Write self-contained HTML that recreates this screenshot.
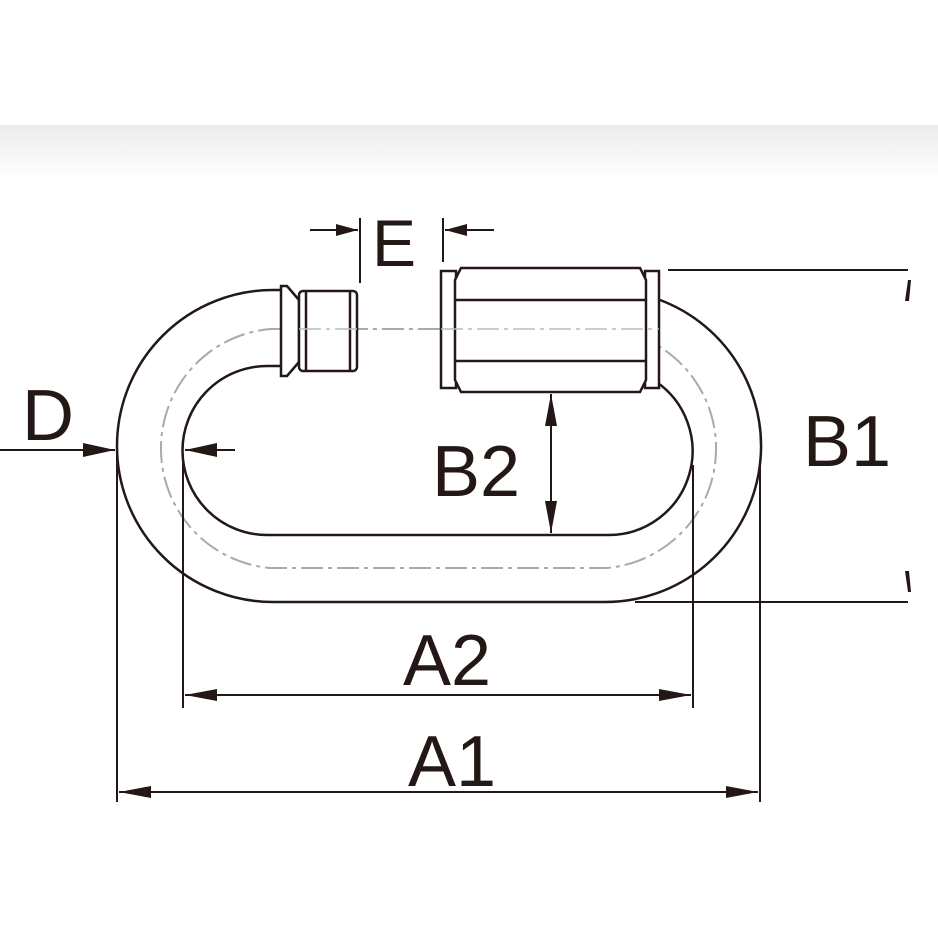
<!DOCTYPE html>
<html><head><style>
html,body{margin:0;padding:0;background:#fff;}
svg{display:block;}
text{font-family:"Liberation Sans",Arial,sans-serif;fill:#231815;}
</style></head><body>
<svg width="938" height="938" viewBox="0 0 938 938" xmlns="http://www.w3.org/2000/svg">
<defs>
<linearGradient id="g" x1="0" y1="0" x2="0" y2="1">
<stop offset="0" stop-color="#ececec"/><stop offset="1" stop-color="#ffffff"/>
</linearGradient>
</defs>
<rect x="0" y="0" width="938" height="938" fill="#fff"/>
<rect x="0" y="125" width="938" height="55" fill="url(#g)"/>
<g fill="none" stroke="#231815" stroke-width="2.5">
<!-- outer link -->
<path d="M282 290 L273 290 A156 156 0 0 0 273 602 L604 602 A156 156 0 0 0 660 300"/>
<!-- inner link -->
<path d="M282 366 L267 366 A84.5 84.5 0 0 0 267 535 L609 535 A84 84 0 0 0 655 381"/>
</g>
<!-- centerline -->
<path d="M280 329 L270 329 A120 120 0 0 0 270 568 L607 568 A120 120 0 0 0 607 329 L280 329" fill="none" stroke="#aaa" stroke-width="2" stroke-dasharray="22,5,4,5"/>
<g fill="#fff" stroke="#231815" stroke-width="2.5">
<!-- gate end -->
<path d="M281 286 L287 286 L299 300 L299 362 L287 376 L281 376 Z"/>
<rect x="299" y="291" width="58" height="80" rx="4"/>
<line x1="306" y1="291" x2="306" y2="371"/>
<line x1="350" y1="291" x2="350" y2="371"/>
<!-- nut -->
<rect x="441" y="271" width="15" height="117"/>
<rect x="645" y="271" width="14" height="117"/>
<path d="M461 268 L640 268 L646 280 L646 380 L640 392 L461 392 L455 380 L455 280 Z"/>
<line x1="455" y1="300" x2="646" y2="300"/>
<line x1="455" y1="361" x2="646" y2="361"/>
</g>
<path d="M299 329 L357 329 M441 329 L659 329" fill="none" stroke="#bbb" stroke-width="1.5" stroke-dasharray="22,5,4,5"/>
<g stroke="#231815" stroke-width="2" fill="none">
<!-- E -->
<line x1="360" y1="218" x2="360" y2="283"/>
<line x1="443" y1="218" x2="443" y2="262"/>
<line x1="310" y1="230" x2="358" y2="230"/>
<line x1="445" y1="230" x2="494" y2="230"/>
<!-- B1 -->
<line x1="668" y1="270" x2="908" y2="270"/>
<line x1="635" y1="602" x2="908" y2="602"/>
<!-- D -->
<line x1="0" y1="450" x2="115" y2="450"/>
<line x1="185" y1="450" x2="235" y2="450"/>
<!-- B2 -->
<line x1="551" y1="394" x2="551" y2="533"/>
<!-- A2 -->
<line x1="183" y1="455" x2="183" y2="708"/>
<line x1="693" y1="465" x2="693" y2="708"/>
<line x1="185" y1="695" x2="691" y2="695"/>
<!-- A1 -->
<line x1="117" y1="455" x2="117" y2="802"/>
<line x1="760" y1="460" x2="760" y2="802"/>
<line x1="119" y1="792" x2="758" y2="792"/>
</g>
<g fill="#231815">
<polygon points="358,230 336,224 336,236"/>
<polygon points="445,230 467,224 467,236"/>
<polygon points="115,450 83,443 83,457"/>
<polygon points="185,450 217,443 217,457"/>
<polygon points="551,394 545,426 557,426"/>
<polygon points="551,533 545,501 557,501"/>
<polygon points="185,695 217,689 217,701"/>
<polygon points="691,695 659,689 659,701"/>
<polygon points="119,792 151,786 151,798"/>
<polygon points="758,792 726,786 726,798"/>
<polygon points="905,301 908,280 911,280 909,301"/>
<polygon points="905,571 908,592 911,592 909,571"/>
</g>
<text x="372" y="266" font-size="66">E</text>
<text x="22" y="440" font-size="72">D</text>
<text x="803" y="466" font-size="72">B1</text>
<text x="432" y="496" font-size="72">B2</text>
<text x="403" y="685" font-size="72">A2</text>
<text x="408" y="786" font-size="72">A1</text>
</svg>
</body></html>
